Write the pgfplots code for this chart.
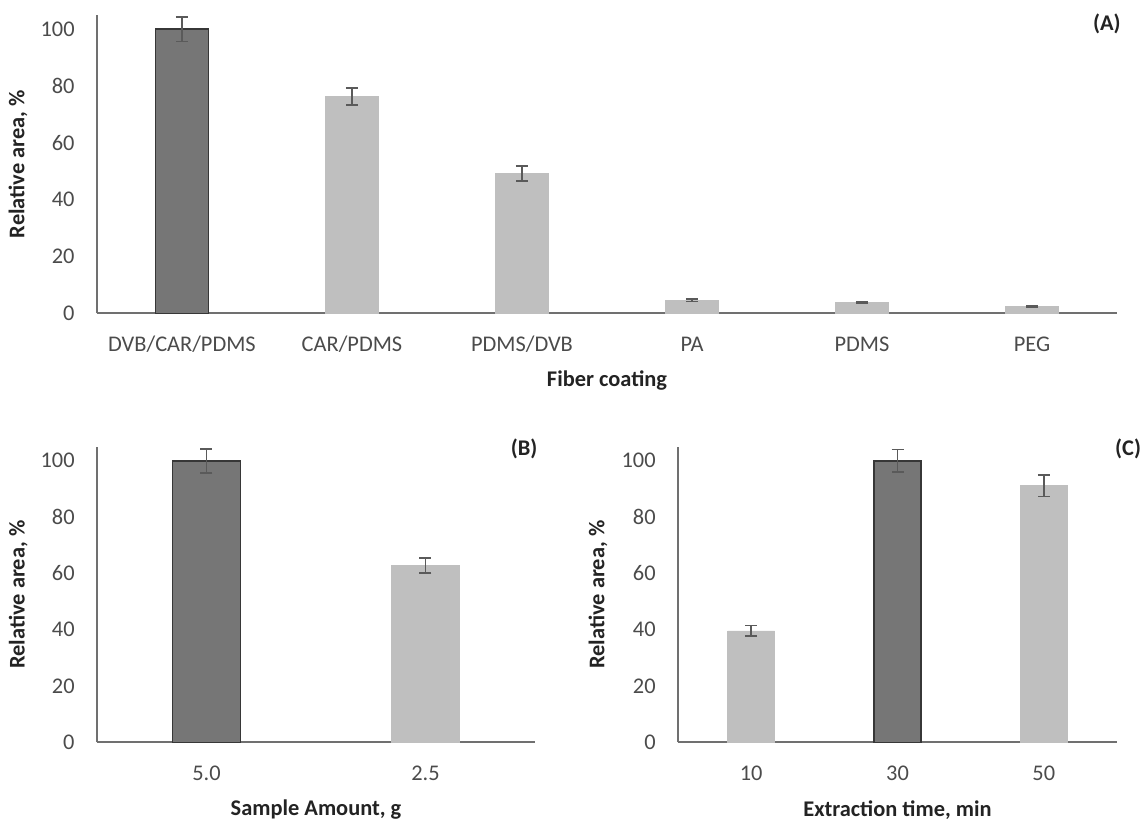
\documentclass[border=0pt]{standalone}
\usepackage{pgfplots}
\pgfplotsset{compat=1.18}
\usepackage{fontspec}
\setmainfont{Carlito}
\definecolor{darkbar}{RGB}{118,118,118}
\definecolor{darkedge}{RGB}{55,55,55}
\definecolor{lightbar}{RGB}{191,191,191}
\definecolor{axisgray}{RGB}{112,112,112}
\definecolor{errgray}{RGB}{90,90,90}
\definecolor{ticktext}{RGB}{75,75,75}
\definecolor{labeltext}{RGB}{35,35,35}
\pgfplotsset{
  panel/.style={
    scale only axis,
    axis lines=left,
    axis line style={axisgray, line width=1pt, -},
    ymin=0, ymax=105,
    ytick={0,20,40,60,80,100},
    tick style={draw=none},
    major tick length=0pt,
    ybar, bar width=0.31,
    clip=false,
    /pgf/number format/assume math mode=true,
    tick label style={font=\fontsize{11.2}{13}\selectfont, text=ticktext},
    yticklabel style={anchor=east, inner sep=0pt, xshift=-11pt},
    xticklabel style={anchor=center, inner sep=0pt, yshift=-15.5pt},
    label style={font=\bfseries\fontsize{11.2}{13}\selectfont, text=labeltext},
    ylabel={Relative area, \%},
  },
  darkb/.style={bar shift=0pt, fill=darkbar, draw=darkedge, line width=0.8pt,
    error bars/.cd, y dir=both, y explicit,
    error bar style={errgray, line width=0.9pt},
    error mark options={errgray, rotate=90, mark size=3pt, line width=0.9pt}},
  lightb/.style={bar shift=0pt, fill=lightbar, draw=lightbar, line width=0.4pt,
    error bars/.cd, y dir=both, y explicit,
    error bar style={errgray, line width=0.9pt},
    error mark options={errgray, rotate=90, mark size=3pt, line width=0.9pt}},
}
\begin{document}
\begin{tikzpicture}
\path[use as bounding box] (0,0) rectangle (573pt,411.5pt);
% Panel A
\begin{axis}[panel,
  at={(48.5pt,254.75pt)}, anchor=south west,
  width=510pt, height=149.25pt,
  xmin=-0.5, xmax=5.5,
  xtick={0,1,2,3,4,5},
  xticklabels={DVB/CAR/PDMS, CAR/PDMS, PDMS/DVB, PA, PDMS, PEG},
  xlabel={Fiber coating},
  xlabel style={at={(axis description cs:0.5,-0.226)}, anchor=center},
  ylabel style={at={(axis description cs:-0.0775,0.5)}, anchor=center},
]
\addplot[darkb] coordinates {(0,100) +- (0,4.3)};
\addplot[lightb] coordinates {(1,76.4) +- (0,3.0) (2,49.2) +- (0,2.6) (3,4.6) +- (0,0.4) (4,3.8) +- (0,0.3) (5,2.5) +- (0,0.3)};
\node[font=\bfseries\fontsize{11.2}{13}\selectfont, text=labeltext] at (axis cs:5.44,101.8) {(A)};
\end{axis}
% Panel B
\begin{axis}[panel,
  at={(48.5pt,40.25pt)}, anchor=south west,
  width=219pt, height=147.9pt,
  xmin=-0.5, xmax=1.5,
  xtick={0,1},
  xticklabels={5.0, 2.5},
  xlabel={Sample Amount, g},
  xlabel style={at={(axis description cs:0.5,-0.228)}, anchor=center},
  ylabel style={at={(axis description cs:-0.180,0.5)}, anchor=center},
]
\addplot[darkb] coordinates {(0,100) +- (0,4.2)};
\addplot[lightb] coordinates {(1,62.8) +- (0,2.7)};
\node[font=\bfseries\fontsize{11.2}{13}\selectfont, text=labeltext] at (axis cs:1.45,104.2) {(B)};
\end{axis}
% Panel C
\begin{axis}[panel,
  at={(339pt,40.25pt)}, anchor=south west,
  width=219.5pt, height=147.9pt,
  xmin=-0.5, xmax=2.5,
  xtick={0,1,2},
  xticklabels={10, 30, 50},
  bar width=0.32,
  xlabel={Extraction time, min},
  xlabel style={at={(axis description cs:0.5,-0.228)}, anchor=center},
  ylabel style={at={(axis description cs:-0.182,0.5)}, anchor=center},
]
\addplot[lightb] coordinates {(0,39.6) +- (0,1.9) (2,91.1) +- (0,3.8)};
\addplot[darkb] coordinates {(1,100) +- (0,4.0)};
\node[font=\bfseries\fontsize{11.2}{13}\selectfont, text=labeltext] at (axis cs:2.576,104.2) {(C)};
\end{axis}
\end{tikzpicture}
\end{document}
